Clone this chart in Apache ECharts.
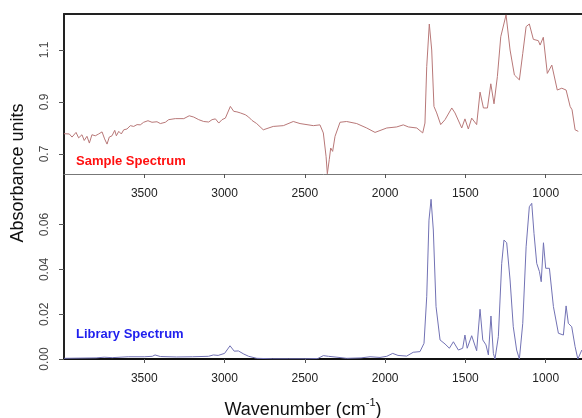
<!DOCTYPE html>
<html>
<head>
<meta charset="utf-8">
<script src="https://cdn.jsdelivr.net/npm/echarts@6/dist/echarts.min.js"></script>
<style>
html,body{margin:0;padding:0;background:#fff;}
#chart{width:582px;height:418px;}
</style>
</head>
<body>
<div id="chart"></div>
<script>
// ---- data ----
const xTicks = [1000, 1500, 2000, 2500, 3000, 3500];
const topYTicks = [0.7, 0.9, 1.1];
const bottomYTicks = [0, 0.02, 0.04, 0.06];

const sampleWn = [4000,3992,3967,3950,3925,3909,3888,3874,3857,3842,3826,3805,3784,3763,3747,3732,3718,3701,3684,3674,3659,3643,3628,3608,3587,3566,3545,3525,3504,3477,3452,3421,3400,3369,3348,3307,3254,3220,3192,3161,3130,3099,3078,3057,3036,3016,2995,2964,2943,2923,2902,2871,2850,2829,2800,2759,2697,2634,2572,2530,2447,2406,2385,2368,2360,2348,2339,2327,2312,2281,2240,2177,2115,2063,1990,1928,1887,1855,1803,1766,1752,1741,1725,1710,1696,1679,1654,1627,1585,1565,1523,1503,1482,1461,1430,1409,1388,1363,1342,1322,1301,1280,1247,1222,1195,1164,1143,1122,1102,1077,1046,1035,1015,990,962,928,900,873,848,836,817,797];
const sampleAbs = [0.778,0.778,0.777,0.765,0.783,0.762,0.774,0.752,0.768,0.742,0.774,0.770,0.777,0.785,0.758,0.738,0.765,0.770,0.791,0.770,0.787,0.777,0.793,0.796,0.809,0.806,0.813,0.812,0.822,0.828,0.822,0.824,0.817,0.822,0.832,0.836,0.836,0.847,0.842,0.832,0.825,0.823,0.832,0.835,0.819,0.832,0.838,0.883,0.864,0.862,0.858,0.851,0.842,0.829,0.817,0.793,0.806,0.809,0.825,0.817,0.809,0.812,0.781,0.691,0.624,0.678,0.723,0.710,0.768,0.822,0.825,0.817,0.800,0.783,0.800,0.804,0.812,0.804,0.800,0.781,0.819,1.036,1.200,1.100,0.883,0.858,0.813,0.832,0.877,0.858,0.800,0.835,0.796,0.838,0.813,0.938,0.877,0.877,0.970,0.893,0.998,1.151,1.235,1.100,1.004,0.985,1.087,1.190,1.200,1.141,1.136,1.119,1.149,1.010,1.042,0.946,0.953,0.946,0.883,0.870,0.793,0.787];

const libWn = [4000,3900,3800,3750,3700,3600,3500,3450,3433,3400,3300,3200,3100,3070,3040,3000,2966,2940,2914,2880,2850,2800,2700,2600,2500,2420,2385,2353,2300,2240,2150,2094,2032,1990,1953,1920,1866,1825,1783,1758,1741,1727,1714,1700,1683,1658,1627,1600,1575,1544,1517,1503,1489,1461,1430,1409,1392,1372,1357,1341,1326,1316,1295,1274,1260,1243,1222,1202,1181,1164,1143,1122,1102,1087,1073,1056,1039,1028,1014,1000,977,952,921,890,873,859,838,817,800,775];
const libAbs = [0.0003,0.0004,0.0005,0.0008,0.0006,0.0010,0.0010,0.0012,0.0018,0.0011,0.0009,0.0010,0.0012,0.0018,0.0016,0.0025,0.0059,0.0035,0.0036,0.0022,0.0012,0.0003,0.0001,0.0001,0.0001,0.0002,0.0015,0.0012,0.0008,0.0003,0.0005,0.0010,0.0007,0.0012,0.0025,0.0016,0.0013,0.0030,0.0033,0.0070,0.0278,0.0620,0.0713,0.0576,0.0234,0.0085,0.0067,0.0048,0.0077,0.0040,0.0048,0.0107,0.0048,0.0104,0.0037,0.0222,0.0085,0.0063,0.0018,0.0192,0.0025,0.0000,0.0100,0.0427,0.0531,0.0519,0.0353,0.0144,0.0040,0.0000,0.0159,0.0501,0.0680,0.0695,0.0561,0.0427,0.0390,0.0345,0.0519,0.0405,0.0405,0.0234,0.0115,0.0107,0.0237,0.0159,0.0144,0.0055,0.0000,0.0040];

const sampleData = sampleWn.map((w, i) => [w, sampleAbs[i]]);
const libData = libWn.map((w, i) => [w, libAbs[i]]);

const FONT = 'Liberation Sans, Arial, sans-serif';
const labelStyle = { fontFamily: FONT, fontSize: 12, color: '#222' };

function xAxisFor(gi, lineColor, lineWidth) {
  return {
    type: 'value', gridIndex: gi, inverse: true, min: 500, max: 4000,
    position: 'bottom',
    axisLine: { show: true, onZero: false, lineStyle: { color: lineColor, width: lineWidth } },
    axisTick: { show: true, length: 4, customValues: xTicks, lineStyle: { color: '#555' } },
    axisLabel: Object.assign({ margin: 14, customValues: xTicks, formatter: v => String(v) }, labelStyle),
    splitLine: { show: false }
  };
}

const chart = echarts.init(document.getElementById('chart'), null, { renderer: 'canvas' });
chart.setOption({
  animation: false,
  backgroundColor: '#fff',
  grid: [
    { left: 64, top: 14, width: 562, height: 160, outerBoundsMode: 'none', containLabel: false },
    { left: 64, top: 174, width: 562, height: 185, outerBoundsMode: 'none', containLabel: false }
  ],
  xAxis: [
    xAxisFor(0, '#777', 1),
    xAxisFor(1, '#111', 2),
    {
      type: 'value', gridIndex: 0, inverse: true, min: 500, max: 4000, position: 'top',
      axisLine: { show: true, onZero: false, lineStyle: { color: '#222', width: 2 } },
      axisTick: { show: false }, axisLabel: { show: false }, splitLine: { show: false }
    }
  ],
  yAxis: [
    {
      type: 'value', gridIndex: 0, min: 0.623, max: 1.2385,
      axisLine: { show: true, lineStyle: { color: '#222', width: 2 } },
      axisTick: { show: true, length: 5, customValues: topYTicks, lineStyle: { color: '#555' } },
      axisLabel: Object.assign({ rotate: 90, margin: 13, customValues: topYTicks,
        formatter: v => v.toFixed(1) }, labelStyle, { color: '#444' }),
      splitLine: { show: false }
    },
    {
      type: 'value', gridIndex: 1, min: 0, max: 0.0826,
      axisLine: { show: true, lineStyle: { color: '#222', width: 2 } },
      axisTick: { show: true, length: 5, customValues: bottomYTicks, lineStyle: { color: '#555' } },
      axisLabel: Object.assign({ rotate: 90, margin: 13, customValues: bottomYTicks,
        formatter: v => v.toFixed(2) }, labelStyle, { color: '#444' }),
      splitLine: { show: false }
    }
  ],
  series: [
    {
      type: 'line', xAxisIndex: 0, yAxisIndex: 0, data: sampleData,
      showSymbol: false, symbol: 'none', clip: true,
      lineStyle: { color: '#b87878', width: 1 }
    },
    {
      type: 'line', xAxisIndex: 1, yAxisIndex: 1, data: libData,
      showSymbol: false, symbol: 'none', clip: true,
      lineStyle: { color: '#7272b4', width: 1 }
    }
  ],
  graphic: [
    {
      type: 'text', left: 76, top: 155,
      style: { text: 'Sample Spectrum', font: 'bold 13px ' + FONT, fill: '#ff1010' }
    },
    {
      type: 'text', left: 76, top: 328,
      style: { text: 'Library Spectrum', font: 'bold 13px ' + FONT, fill: '#1f1fee' }
    },
    {
      type: 'text', x: 18, y: 173, rotation: Math.PI / 2,
      style: { text: 'Absorbance units', font: '18px ' + FONT, fill: '#111',
        textAlign: 'center', textVerticalAlign: 'middle' }
    },
    {
      type: 'text', x: 303, y: 408,
      style: {
        text: '{a|Wavenumber (cm}{b|-1}{a|)}',
        textAlign: 'center', textVerticalAlign: 'middle',
        rich: {
          a: { font: '18px ' + FONT, fill: '#111', lineHeight: 22, verticalAlign: 'bottom' },
          b: { font: '11px ' + FONT, fill: '#111', lineHeight: 22, verticalAlign: 'top' }
        }
      }
    }
  ]
});
</script>
</body>
</html>
